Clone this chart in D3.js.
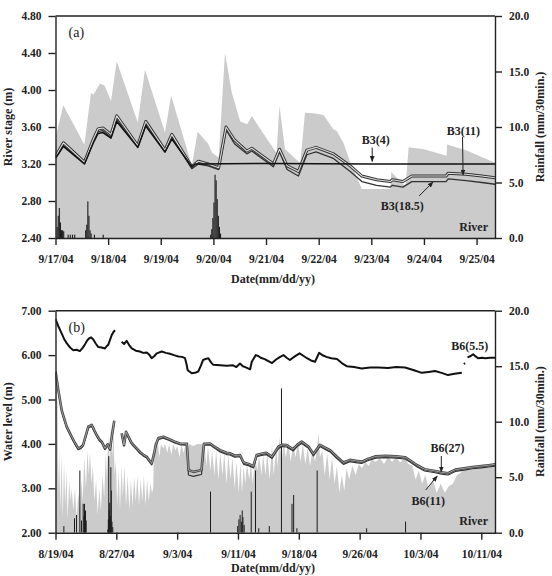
<!DOCTYPE html>
<html lang="en">
<head>
<meta charset="UTF-8">
<title>River stage, water level and rainfall</title>
<script src="https://d3js.org/d3.v7.min.js"></script>
<style>
  body { margin: 0; background: #fff; }
  svg { display: block; font-family: "Liberation Serif", "Times New Roman", "DejaVu Serif", serif; }
  .axis text { font-family: "Liberation Serif", "Times New Roman", "DejaVu Serif", serif; font-size: 11.5px; font-weight: bold; fill: #222; }
  .axis path, .axis line { stroke: #222; stroke-width: 1.4px; }
  .title, .note { font-size: 12px; font-weight: bold; fill: #222; }
</style>
</head>
<body>
<div id="chart"></div>
<script>
// ---------- panel (a): days from 9/17/04 00:00 ----------
const riverA = [[0,3.48],[0.148,3.835],[0.548,3.41],[0.675,3.97],[0.72,3.95],[0.846,4.07],[0.93,4.05],[1.055,3.88],
  [1.163,4.31],[1.563,3.65],[1.70,4.22],[2.08,3.54],[2.196,3.94],[2.59,3.18],[2.70,3.55],[2.90,3.42],[2.98,3.32],
  [3.10,3.27],[3.22,4.40],[3.35,3.97],[3.51,3.66],[3.64,3.63],[3.73,3.72],[3.90,3.57],[4.20,3.32],[4.255,3.83],
  [4.36,3.36],[4.65,3.21],[4.74,3.755],[4.90,3.75],[5.09,3.73],[5.28,3.575],[5.34,3.56],[5.47,3.43],[5.60,3.22],
  [5.82,2.93],[6.36,2.93],[6.38,3.11],[6.65,2.96],[6.71,3.38],[7.00,3.36],[7.43,3.29],[7.44,3.41],[7.80,3.35],
  [8.00,3.30],[8.36,3.21]];

// rainfall, [hour, mm per 30 min]
const rainA = [[0.5,1.0],[1,2.0],[1.5,2.7],[2,1.4],[2.5,0.7],[3,0.7],[3.5,0.6],[5.5,0.3],[6.5,0.3],[7.5,0.3],[8.5,0.3],
  [13.5,0.7],[14,1.2],[14.5,3.3],[15,2.0],[15.5,0.7],[16,0.4],[17.5,0.3],[21.5,0.3],
  [70.5,0.3],[71,0.8],[71.5,1.8],[72,3.2],[72.5,5.7],[73,5.2],[73.5,3.5],[74,2.0],[74.5,1.0],[75,0.4]];

const b3_4 = [[0,3.26],[0.15,3.39],[0.55,3.20],[0.72,3.43],[0.81,3.53],[0.90,3.54],[1.055,3.48],[1.163,3.66],
  [1.563,3.38],[1.715,3.61],[2.08,3.33],[2.21,3.47],[2.59,3.17],[2.65,3.20],[4.0,3.205],[6.0,3.20],[8.36,3.20]];

const b3_11 = [[0,3.28],[0.15,3.43],[0.55,3.22],[0.72,3.47],[0.81,3.58],[0.90,3.59],[1.055,3.52],[1.163,3.72],
  [1.563,3.40],[1.715,3.66],[2.08,3.35],[2.21,3.52],[2.59,3.17],[2.715,3.23],[2.90,3.20],[3.10,3.16],[3.24,3.60],
  [3.40,3.46],[3.635,3.34],[3.73,3.37],[4.14,3.20],[4.255,3.36],[4.40,3.18],[4.615,3.12],[4.775,3.35],[4.95,3.38],
  [5.28,3.31],[5.60,3.18],[5.82,3.07],[6.10,3.03],[6.36,3.01],[6.40,3.03],[6.60,3.01],[6.77,3.07],[7.00,3.07],
  [7.42,3.07],[7.46,3.10],[7.80,3.09],[8.10,3.07],[8.36,3.05]];

const b3_185 = [[0,3.27],[0.15,3.40],[0.55,3.21],[0.72,3.44],[0.81,3.55],[0.90,3.56],[1.055,3.49],[1.163,3.68],
  [1.563,3.38],[1.715,3.63],[2.08,3.33],[2.21,3.49],[2.59,3.15],[2.715,3.20],[2.90,3.18],[3.10,3.14],[3.24,3.57],
  [3.40,3.42],[3.635,3.31],[3.73,3.34],[4.14,3.17],[4.255,3.33],[4.40,3.14],[4.615,3.07],[4.775,3.30],[4.95,3.33],
  [5.28,3.26],[5.60,3.12],[5.82,3.01],[6.10,2.97],[6.36,2.95],[6.40,2.97],[6.60,2.95],[6.77,3.01],[7.00,3.01],
  [7.42,3.01],[7.46,3.04],[7.80,3.02],[8.10,3.00],[8.36,2.98]];

const ticksA = [0,1,2,3,4,5,6,7,8];
const tickLabelsA = ["9/17/04","9/18/04","9/19/04","9/20/04","9/21/04","9/22/04","9/23/04","9/24/04","9/25/04"];
const yTicksA = [2.4,2.8,3.2,3.6,4.0,4.4,4.8];

// ---------- panel (b): days from 8/19/04 00:00 ----------
const riverB = [[0,5.60],[0.25,4.9],[0.35,2.9],[0.45,3.9],[0.6,2.5],[0.75,3.8],[0.9,2.3],[1.05,3.6],[1.2,2.6],
  [1.35,3.4],[1.5,2.3],[1.7,3.2],[1.85,2.7],[2.0,3.0],[2.2,2.5],[2.4,3.0],[2.6,2.3],[2.8,2.9],[3.0,2.5],[3.2,3.2],
  [3.35,2.7],[3.55,3.7],[3.75,3.0],[3.95,3.85],[4.1,3.3],[4.25,3.8],[4.45,3.1],[4.6,3.5],[4.8,2.7],[5.0,3.2],
  [5.2,2.4],[5.4,3.0],[5.6,2.5],[5.8,3.3],[6.0,2.8],[6.2,3.8],[6.35,3.2],[6.5,4.2],[6.65,3.6],[6.85,4.45],[7.0,3.7],
  [7.15,4.3],[7.3,3.3],[7.45,3.6],[7.6,2.6],[7.8,3.4],[7.95,2.5],[8.15,3.5],[8.3,2.8],[8.5,3.5],[8.7,2.6],[8.9,3.3],
  [9.1,2.5],[9.3,3.2],[9.5,2.6],[9.7,3.25],[9.9,2.7],[10.1,3.3],[10.3,2.6],[10.5,3.2],[10.7,2.7],[10.9,3.3],
  [11.1,2.6],[11.3,3.2],[11.5,2.7],[11.7,3.1],[11.9,2.9],[12.05,3.0],[12.15,4.05],[12.4,3.85],[12.6,4.05],
  [12.8,3.7],[13.0,4.0],[13.3,3.9],[13.5,4.0],[13.8,3.8],[14.0,4.0],[14.3,3.75],[14.5,4.0],[14.8,3.85],[15.0,3.95],
  [15.3,3.7],[15.5,3.98],[15.8,3.8],[16.0,3.97],[16.3,3.85],[16.5,4.0],[17.0,3.95],[17.5,4.0],[18.0,4.0],
  [18.4,3.95],[18.6,3.5],[18.8,3.95],[19.1,3.4],[19.3,3.85],[19.6,3.3],[19.8,3.85],[20.1,3.2],[20.3,3.8],
  [20.6,3.3],[20.8,3.8],[21.1,3.1],[21.3,3.75],[21.6,3.2],[21.8,3.7],[22.1,3.0],[22.3,3.6],[22.6,2.9],[22.8,3.6],
  [23.0,2.9],[23.2,3.5],[23.4,3.1],[23.6,3.55],[23.9,3.2],[24.1,3.6],[24.3,3.1],[24.6,3.7],[24.9,3.4],[25.1,3.75],
  [25.4,3.3],[25.6,3.75],[25.9,3.3],[26.1,3.8],[26.4,3.2],[26.7,4.0],[26.9,3.3],[27.2,3.9],[27.4,3.5],[27.6,4.15],
  [27.9,3.6],[28.1,4.05],[28.4,3.7],[28.7,4.05],[29.0,3.6],[29.3,4.0],[29.6,3.7],[29.9,4.05],[30.2,3.6],[30.5,4.0],
  [30.8,3.55],[31.1,3.9],[31.4,3.5],[31.7,3.9],[32.0,3.6],[32.3,4.0],[32.45,4.25],[32.6,3.7],[32.9,3.85],
  [33.2,3.3],[33.5,3.8],[33.8,3.2],[34.1,3.7],[34.4,3.1],[34.7,3.5],[35.0,2.9],[35.3,3.3],[35.6,2.95],[35.9,3.45],
  [36.2,3.2],[36.6,3.5],[37.0,3.3],[37.4,3.55],[37.8,3.45],[38.2,3.6],[38.6,3.5],[39.0,3.65],[39.5,3.6],
  [40.0,3.68],[40.5,3.55],[41.0,3.7],[41.5,3.6],[42.0,3.7],[42.5,3.58],[43.0,3.7],[43.5,3.55],[44.0,3.5],
  [44.4,3.2],[44.8,3.4],[45.2,3.1],[45.6,3.3],[46.0,3.0],[46.5,3.2],[47.0,2.9],[47.5,3.1],[48.0,2.9],[48.5,3.05],
  [49.0,3.1],[49.5,3.3],[50.0,3.35],[50.5,3.45],[51.0,3.45],[51.5,3.5],[52.0,3.48],[52.5,3.5],[53.0,3.52],
  [53.5,3.55],[54.2,3.53]];

// rainfall, [day, mm per 30 min]
const rainB = [[0.97,0.6],[2.28,1.3],[2.53,1.6],[2.94,5.6],[3.14,1.1],[3.35,2.6],[3.45,1.5],[3.51,2.6],[3.58,1.8],
  [3.64,2.0],[3.72,1.1],[6.39,0.3],[6.45,1.2],[6.5,6.9],[6.56,2.0],[6.62,2.7],[6.7,1.5],[6.76,5.9],[6.82,3.8],
  [6.9,1.0],[7.0,0.5],[19.05,3.7],[22.4,0.6],[22.55,1.2],[22.7,1.6],[22.85,1.0],[22.96,2.0],[23.05,1.4],[23.2,0.7],
  [24.07,3.7],[24.6,5.6],[25.0,0.4],[26.3,0.6],[27.8,13.0],[29.1,2.6],[29.3,3.4],[29.7,0.4],[32.2,5.6],[38.3,0.4],
  [43.1,1.0]];

const b6_55 = [[0,6.81],[0.35,6.65],[0.76,6.49],[1.1,6.35],[1.38,6.27],[1.8,6.17],[2.2,6.11],[2.6,6.12],[3.0,6.09],
  [3.3,6.15],[3.6,6.23],[3.9,6.33],[4.17,6.38],[4.4,6.40],[4.66,6.35],[5.0,6.25],[5.28,6.18],[5.7,6.17],[6.1,6.15],
  [6.3,6.20],[6.5,6.23],[6.7,6.33],[6.93,6.45],[7.15,6.52],[7.34,6.56],[7.5,null],[8.16,6.30],[8.45,6.25],
  [8.78,6.32],[9.1,6.22],[9.4,6.15],[9.9,6.10],[10.4,6.08],[10.8,6.05],[11.25,6.06],[11.6,6.00],[11.86,5.93],
  [12.2,5.98],[12.48,6.04],[13.1,6.08],[13.6,6.05],[14.1,6.03],[14.6,6.00],[15.15,5.97],[15.6,5.96],[15.97,5.93],
  [16.15,5.80],[16.3,5.66],[16.8,5.59],[17.2,5.60],[17.6,5.63],[17.9,5.75],[18.2,5.89],[18.6,5.92],[18.85,5.93],
  [19.2,5.83],[19.46,5.78],[20.3,5.77],[21.1,5.76],[21.9,5.77],[22.3,5.73],[22.75,5.81],[23.1,5.75],[23.4,5.73],
  [24.0,5.68],[24.2,5.85],[24.4,5.91],[24.7,6.00],[25.0,5.98],[25.3,5.94],[25.8,5.91],[26.3,5.86],[26.7,5.82],
  [27.2,5.90],[27.6,5.95],[28.1,6.00],[28.5,5.94],[28.9,5.89],[29.5,5.97],[30.1,6.04],[30.6,5.98],[31.0,5.93],
  [31.5,5.88],[32.0,5.85],[32.5,6.05],[33.0,5.99],[33.4,5.96],[34.0,5.93],[34.7,5.91],[35.3,5.82],[35.9,5.75],
  [36.8,5.73],[37.75,5.70],[38.8,5.72],[39.8,5.72],[41.0,5.71],[42.0,5.73],[43.1,5.72],[44.2,5.66],[45.15,5.60],
  [46.0,5.62],[46.8,5.64],[47.6,5.60],[48.4,5.55],[49.2,5.58],[50.1,5.60],[50.2,null],[50.35,5.80],[50.5,5.82],
  [50.6,null],[50.8,5.95],[51.2,5.98],[51.5,6.02],[51.8,5.97],[52.1,5.93],[52.6,5.94],[53.0,5.93],[53.6,5.94],
  [54.2,5.94]];

const b6_27 = [[0,5.63],[0.35,5.21],[0.76,4.76],[1.1,4.55],[1.38,4.39],[2.0,4.16],[2.4,4.02],[2.8,3.90],[3.1,3.92],
  [3.4,3.975],[3.75,4.20],[4.05,4.39],[4.46,4.43],[4.8,4.30],[5.08,4.20],[5.4,4.10],[5.7,4.05],[6.1,3.90],
  [6.44,3.99],[6.72,3.88],[7.0,4.24],[7.25,4.52],[7.4,null],[8.16,4.24],[8.45,3.975],[8.7,4.275],[9.0,4.16],
  [9.3,4.05],[9.6,3.975],[10.0,3.90],[10.4,3.82],[10.8,3.76],[11.25,3.71],[11.6,3.62],[11.86,3.56],[12.15,3.78],
  [12.4,4.00],[12.68,4.13],[13.3,4.16],[14.1,4.10],[14.7,4.05],[15.35,4.01],[16.2,4.00],[16.4,3.41],[17.0,3.37],
  [17.5,3.39],[18.0,3.41],[18.3,4.00],[19.05,4.01],[19.5,3.95],[20.3,3.86],[21.1,3.80],[21.5,3.79],[22.1,3.74],
  [22.75,3.75],[23.2,3.58],[23.8,3.55],[24.4,3.50],[24.8,3.75],[25.4,3.78],[26.0,3.80],[26.7,3.71],[27.5,3.94],
  [28.0,3.98],[28.5,3.975],[29.3,3.88],[29.8,3.98],[30.35,4.05],[31.2,3.94],[31.8,3.77],[32.6,3.98],[33.2,3.92],
  [33.85,3.86],[34.7,3.71],[35.5,3.58],[36.3,3.64],[37.0,3.62],[37.75,3.60],[38.5,3.66],[39.5,3.72],[40.7,3.73],
  [42.0,3.72],[43.1,3.70],[43.8,3.62],[44.6,3.52],[45.5,3.43],[46.8,3.39],[47.6,3.36],[48.4,3.34],[49.3,3.42],
  [50.4,3.45],[51.4,3.48],[52.5,3.50],[53.4,3.52],[54.2,3.54]];

const b6_11 = [[0,5.60],[0.35,5.18],[0.76,4.73],[1.1,4.52],[1.38,4.36],[2.0,4.13],[2.4,3.99],[2.8,3.87],[3.1,3.89],
  [3.4,3.95],[3.75,4.17],[4.05,4.36],[4.46,4.40],[4.8,4.27],[5.08,4.17],[5.4,4.07],[5.7,4.02],[6.1,3.87],
  [6.44,3.96],[6.72,3.85],[7.0,4.21],[7.25,4.49],[7.4,null],[8.16,4.21],[8.45,3.95],[8.7,4.25],[9.0,4.13],
  [9.3,4.02],[9.6,3.95],[10.0,3.87],[10.4,3.79],[10.8,3.73],[11.25,3.68],[11.6,3.59],[11.86,3.53],[12.15,3.75],
  [12.4,3.97],[12.68,4.10],[13.3,4.13],[14.1,4.07],[14.7,4.02],[15.35,3.98],[16.2,3.97],[16.4,3.30],[17.0,3.27],
  [17.5,3.29],[18.0,3.31],[18.3,3.97],[19.05,3.98],[19.5,3.92],[20.3,3.82],[21.1,3.76],[21.5,3.75],[22.1,3.70],
  [22.75,3.71],[23.2,3.54],[23.8,3.51],[24.4,3.46],[24.8,3.71],[25.4,3.74],[26.0,3.76],[26.7,3.67],[27.5,3.90],
  [28.0,3.94],[28.5,3.93],[29.3,3.84],[29.8,3.94],[30.35,4.01],[31.2,3.90],[31.8,3.73],[32.6,3.94],[33.2,3.88],
  [33.85,3.82],[34.7,3.67],[35.5,3.54],[36.3,3.60],[37.0,3.58],[37.75,3.56],[38.5,3.62],[39.5,3.68],[40.7,3.69],
  [42.0,3.68],[43.1,3.66],[43.8,3.58],[44.6,3.48],[45.5,3.39],[46.8,3.35],[47.6,3.32],[48.4,3.30],[49.3,3.38],
  [50.4,3.41],[51.4,3.44],[52.5,3.46],[53.4,3.48],[54.2,3.50]];

const ticksB = [0,7.5,15,22.5,30,37.5,45,52.5];
const tickLabelsB = ["8/19/04","8/27/04","9/3/04","9/11/04","9/18/04","9/26/04","10/3/04","10/11/04"];
const yTicksB = [2,3,4,5,6,7];
const rainTicks = [0,5,10,15,20];

// ---------- drawing ----------
const L = 55.5, R = 495;
const svg = d3.select("#chart").append("svg").attr("width", 552).attr("height", 576);
const defs = svg.append("defs");
defs.append("marker").attr("id", "arrow").attr("viewBox", "0 0 10 10")
  .attr("refX", 9).attr("refY", 5).attr("markerWidth", 6).attr("markerHeight", 6)
  .attr("orient", "auto")
  .append("path").attr("d", "M0,1L10,5L0,9Z").attr("fill", "#222");

function drawPanel(p) {
  const g = svg.append("g");
  const toDate = d => new Date(p.start.getTime() + d * 864e5);
  const x = d3.scaleTime().domain([p.start, toDate(p.span)]).range([L, R]);
  const y = d3.scaleLinear().domain(p.yDomain).range([p.bottom, p.top]);
  const yR = d3.scaleLinear().domain([0, 20]).range([p.bottom, p.top]);

  defs.append("clipPath").attr("id", "clip-" + p.id)
    .append("rect").attr("x", L).attr("y", p.top).attr("width", R - L).attr("height", p.bottom - p.top);
  const plot = g.append("g").attr("clip-path", `url(#clip-${p.id})`);

  // river stage as filled area
  plot.append("path").datum(p.river)
    .attr("fill", "#cbcbcb")
    .attr("d", d3.area().x(d => x(toDate(d[0]))).y0(p.bottom).y1(d => y(d[1])));

  // rainfall bars (30 min)
  const barW = Math.max(1, x(toDate(1 / 48)) - x(toDate(0)));
  plot.append("g").selectAll("rect").data(p.rain).join("rect")
    .attr("x", d => x(toDate(d[0])))
    .attr("width", barW)
    .attr("y", d => yR(d[1]))
    .attr("height", d => p.bottom - yR(d[1]))
    .attr("fill", "#1c1c1c");

  const line = d3.line().defined(d => d[1] !== null)
    .x(d => x(toDate(d[0]))).y(d => y(d[1]));
  p.series.forEach(s => {
    s.strokes.forEach(st => {
      plot.append("path").datum(s.data)
        .attr("fill", "none").attr("stroke", st[0]).attr("stroke-width", st[1])
        .attr("stroke-linejoin", "round").attr("d", line);
    });
  });

  // axes and frame
  g.append("g").attr("class", "axis").attr("transform", `translate(0,${p.bottom})`)
    .call(d3.axisBottom(x).tickValues(p.ticks.map(toDate))
      .tickFormat((d, i) => p.tickLabels[i]).tickSize(7).tickPadding(10).tickSizeOuter(0));
  g.append("g").attr("class", "axis").attr("transform", `translate(${L},0)`)
    .call(d3.axisLeft(y).tickValues(p.yTicks).tickFormat(d3.format(".2f"))
      .tickSize(7).tickPadding(7).tickSizeOuter(0));
  g.append("g").attr("class", "axis").attr("transform", `translate(${R},0)`)
    .call(d3.axisRight(yR).tickValues(rainTicks).tickFormat(d3.format(".1f"))
      .tickSize(7).tickPadding(7).tickSizeOuter(0));
  g.append("line").attr("x1", L).attr("x2", R).attr("y1", p.top).attr("y2", p.top)
    .attr("stroke", "#222").attr("stroke-width", 1.4);

  // titles
  const midY = (p.top + p.bottom) / 2;
  g.append("text").attr("class", "title").attr("text-anchor", "middle")
    .attr("transform", `translate(12,${midY}) rotate(-90)`).text(p.yTitle);
  g.append("text").attr("class", "title").attr("text-anchor", "middle")
    .attr("transform", `translate(544,${midY}) rotate(-90)`).text("Rainfall (mm/30min.)");
  g.append("text").attr("class", "title").attr("text-anchor", "middle")
    .attr("x", 273).attr("y", Math.min(p.bottom + 45, 572)).text("Date(mm/dd/yy)");

  g.append("text").attr("x", L + 13).attr("y", p.top + 21)
    .style("font-size", "14px").attr("fill", "#222").text(p.tag);
  g.append("text").attr("class", "note").attr("text-anchor", "end")
    .attr("x", R - 7).attr("y", p.bottom - 7.5).text("River");

  // annotations
  p.notes.forEach(n => {
    g.append("text").attr("class", "note").attr("text-anchor", "middle")
      .attr("x", x(toDate(n.at[0]))).attr("y", y(n.at[1])).text(n.label);
    if (n.from) {
      g.append("line")
        .attr("x1", x(toDate(n.from[0]))).attr("y1", y(n.from[1]))
        .attr("x2", x(toDate(n.to[0]))).attr("y2", y(n.to[1]))
        .attr("stroke", "#222").attr("stroke-width", 1).attr("marker-end", "url(#arrow)");
    }
  });
}

drawPanel({
  id: "a", tag: "(a)", start: new Date(2004, 8, 17), span: 8.35,
  top: 16, bottom: 238, yDomain: [2.4, 4.8], yTicks: yTicksA,
  ticks: ticksA, tickLabels: tickLabelsA, yTitle: "River stage (m)",
  river: riverA, rain: rainA.map(d => [d[0] / 24, d[1]]),
  series: [
    { data: b3_185, strokes: [["#333", 1.3]] },
    { data: b3_11, strokes: [["#333", 3], ["#dedede", 1.1]] },
    { data: b3_4, strokes: [["#111", 1.5]] }
  ],
  notes: [
    { label: "B3(4)", at: [6.085, 3.416], from: [6.017, 3.378], to: [6.017, 3.227] },
    { label: "B3(11)", at: [7.748, 3.514], from: [7.733, 3.492], to: [7.743, 3.081] },
    { label: "B3(18.5)", at: [6.59, 2.703], from: [6.907, 2.854], to: [7.173, 3.005] }
  ]
});

drawPanel({
  id: "b", tag: "(b)", start: new Date(2004, 7, 19), span: 54.19,
  top: 310.7, bottom: 532.7, yDomain: [2, 7], yTicks: yTicksB,
  ticks: ticksB, tickLabels: tickLabelsB, yTitle: "Water level (m)",
  river: riverB, rain: rainB,
  series: [
    { data: b6_11, strokes: [["#333", 1.2]] },
    { data: b6_27, strokes: [["#444", 2.6], ["#b5b5b5", 0.8]] },
    { data: b6_55, strokes: [["#111", 2]] }
  ],
  notes: [
    { label: "B6(5.5)", at: [51.08, 6.115] },
    { label: "B6(27)", at: [48.32, 3.818], from: [47.57, 3.727], to: [47.57, 3.367] },
    { label: "B6(11)", at: [45.96, 2.624], from: [45.65, 2.962], to: [47.07, 3.277] }
  ]
});
</script>
</body>
</html>
